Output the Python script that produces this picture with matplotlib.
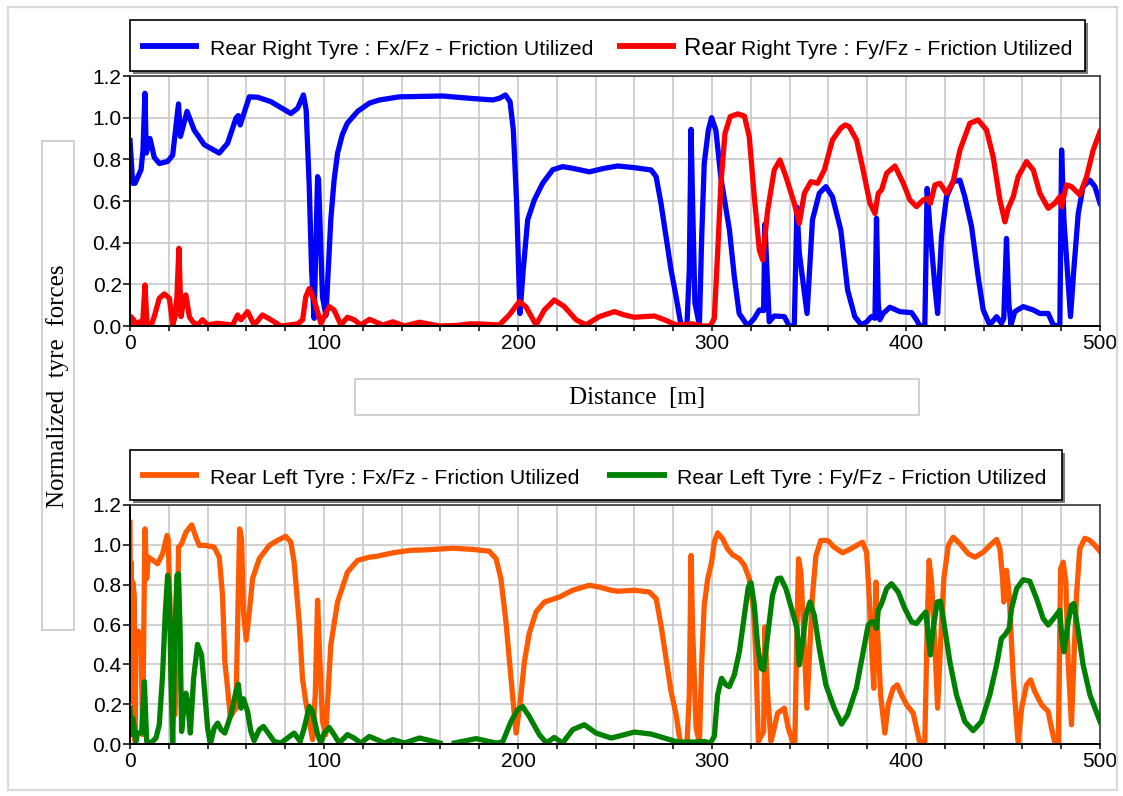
import numpy as np
import matplotlib
matplotlib.use("Agg")
import matplotlib.pyplot as plt
from matplotlib.patches import Rectangle
from matplotlib.lines import Line2D
from matplotlib.ticker import MultipleLocator, FormatStrFormatter

plt.rcParams['font.family'] = ['Liberation Sans', 'DejaVu Sans']

# rear right tyre, Fx/Fz
rr_fx_d = [0, 1.4, 2.6, 5.7, 6.7, 7.7, 8.4, 10.3, 12.5, 15.1, 19.4, 22, 25, 26, 29.4, 33.1, 38.3, 46,
           50.3, 54.6, 55.8, 56.8, 58, 61.5, 65.8, 72.6, 82.9, 86.4, 89.4, 90.8, 92.4, 93.6, 94.9, 96.7,
           97.2, 99.2, 101, 103.5, 105.2, 107, 109.5, 112, 117.3, 123.4, 128.6, 138.9, 161.2, 175, 187,
           190.4, 193.5,
           195.9, 197.6, 199.3, 201, 202.7, 205, 208.4, 212.7, 217.9, 223, 228.2, 236.7, 244.5, 251.4,
           260, 268.6, 271.2, 273.7, 276.3, 278.9, 281.5, 284, 287.1, 288.3, 289.2, 290, 291.2, 293.5,
           294.7, 296, 298.1, 299.8, 302, 304.6, 309, 311.5, 314, 318.4, 321.8, 324.4, 326.6, 327.3,
           328.3, 329.5, 332.1, 337.3, 339.8, 342.4, 343.8, 345, 347.2, 349, 351.8, 355.3, 358.7, 362.1,
           366.4, 369.9, 373.6, 377, 379.7, 382.2, 384, 384.8, 385.7, 386.5, 388.2, 391.7, 396.8, 402.9,
           405.4, 407.1, 409.7, 410.9, 412.3, 414.9, 416.3, 418.3, 420.9, 424.3, 427.8, 430.3, 433.8,
           437.2, 439.8, 443.2, 446.7, 449.2, 450.4, 451.8, 453, 454.1, 456.1, 460.4, 465.6, 469, 473.3,
           475.9, 479.3, 480.2, 481.4, 483.6, 484.8, 486.5, 488.8, 491.3, 494.8, 497.4, 500]
rr_fx_v = [0.89, 0.685, 0.685, 0.75, 0.845, 1.117, 0.83, 0.90, 0.81, 0.78, 0.79, 0.82, 1.066, 0.91, 1.03,
           0.94, 0.87, 0.83, 0.877, 0.997, 1.01, 0.965, 1.0, 1.10, 1.098, 1.077, 1.02, 1.045, 1.109, 1.037,
           0.67, 0.27, 0.037, 0.717, 0.70, 0.14, 0.05, 0.51, 0.70, 0.83, 0.92, 0.973, 1.03, 1.07, 1.085,
           1.10, 1.104,
           1.093, 1.085, 1.093, 1.109, 1.077, 0.94, 0.59, 0.06, 0.27, 0.51, 0.605, 0.685, 0.75, 0.765,
           0.757, 0.74, 0.757, 0.768, 0.76, 0.749, 0.717, 0.589, 0.429, 0.269, 0.14, 0.005, 0.005, 0.27,
           0.944, 0.59, 0.11, 0.005, 0.43, 0.78, 0.94, 1.0, 0.94, 0.71, 0.46, 0.237, 0.06, 0.0, 0.037,
           0.077, 0.074, 0.49, 0.27, 0.02, 0.048, 0.045, 0.0, 0.0, 0.57, 0.35, 0.19, 0.06, 0.51, 0.637,
           0.669, 0.62, 0.46, 0.173, 0.045, 0.005, 0.02, 0.045, 0.037, 0.517, 0.109, 0.03, 0.06, 0.09,
           0.069, 0.064, 0.03, 0.0, 0.0, 0.66, 0.477, 0.189, 0.06, 0.429, 0.621, 0.693, 0.7, 0.621, 0.477,
           0.237, 0.077, 0.005, 0.045, 0.013, 0.037, 0.42, 0.109, 0.005, 0.069, 0.093, 0.077, 0.06, 0.06,
           0.005, 0.0, 0.845, 0.509, 0.205, 0.045, 0.27, 0.541, 0.669, 0.7, 0.669, 0.589]

# rear right tyre, Fy/Fz (nan = gap in the trace)
rr_fy_d = [0, 0.5, 1.9, 3, 4.8, 6.5, 7.7, 8.8, 10.8, 12.5, 15.1, 17.7, 20.3, 22, 23.2, 24.2, 25.2, 26.3,
           28, 28.8, 30.6, 32.3, 34.8, 37.4, 40, 45.2, 52.9, 55.5, 57.2, 60.6, 64, 68.3, 72.6, 77.8, 86.4,
           89, 90.6, 92.4, 94.9, 98.4, 102.7, 105.2, 108.7, 112.1, 115.5, 119, 123.4, 130.3, 135.5, 141.5,
           149.2, 159.5, 166.5, 167.5, 168.7, 175, 180, 190.4, 195.5, 200.7, 204, 209.3, 213.6, 218.7,
           223.9, 229.9, 235, 241.9, 249.7, 254.8, 260, 270.3, 275.5, 281.5, 290, 295.2, 299.1, 301.2,
           302.9, 304.6, 306.7, 309.4, 313.2, 316.7, 319.2, 321.8, 324.4, 326.1, 328.7, 332.1, 335, 338.1,
           342.4, 345, 347.6, 351, 354.4, 357.9, 362.1, 366.4, 368.6, 370.7, 374.5, 377.9, 381.4, 384,
           385.7, 387.4, 390, 394.3, 398.6, 402, 405.4, 408.9, 411.4, 412.6, 414.9, 417.5, 420.9, 424.3,
           427.8, 432.9, 437.2, 441.5, 444.9, 448.4, 451, 452.7, 455.3, 457.8, 462.1, 465.6, 469, 473.3,
           476.7, 479.3, 480.2, 482.7, 485.3, 489.6, 493.1, 496.5, 500]
rr_fy_v = [0.005, 0.045, 0.03, 0.005, 0.02, 0.005, 0.197, 0.005, 0.0, 0.045, 0.133, 0.154, 0.133, 0.005,
           0.045, 0.14, 0.373, 0.045, 0.14, 0.149, 0.045, 0.02, 0.005, 0.03, 0.005, 0.013, 0.005, 0.053,
           0.03, 0.069, 0.005, 0.053, 0.03, 0.0, 0.01, 0.03, 0.14, 0.18, 0.125, 0.013, 0.093, 0.077, 0.005,
           0.042, 0.03, 0.005, 0.032, 0.005, 0.02, 0.0, 0.018, 0.0, 0.002, np.nan, 0.003, 0.01, 0.01,
           0.005, 0.053, 0.117, 0.093, 0.005, 0.077, 0.125, 0.093, 0.03, 0.005, 0.045, 0.069, 0.053, 0.042,
           0.048, 0.03, 0.005, 0.01, 0.0, 0.0, 0.037, 0.35, 0.685, 0.925, 1.005, 1.018, 1.008, 0.909, 0.62,
           0.365, 0.317, 0.557, 0.749, 0.797, 0.717, 0.589, 0.493, 0.637, 0.693, 0.685, 0.749, 0.893, 0.95,
           0.965, 0.957, 0.893, 0.749, 0.589, 0.54, 0.637, 0.653, 0.733, 0.768, 0.685, 0.605, 0.573, 0.605,
           0.613, 0.589, 0.677, 0.685, 0.637, 0.693, 0.845, 0.973, 0.989, 0.941, 0.813, 0.605, 0.5, 0.565,
           0.621, 0.717, 0.789, 0.749, 0.637, 0.565, 0.589, 0.621, 0.573, 0.677, 0.669, 0.629, 0.717,
           0.845, 0.933]

# rear left tyre, Fx/Fz
rl_fx_d = [0, 0.2, 0.5, 0.9, 1.4, 2.2, 2.6, 3.1, 4.3, 5.7, 6.5, 7.7, 8.6, 9.4, 10.8, 14.2, 16.8, 19.1,
           19.7, 21.1, 23.2, 24.5, 25, 26.6, 28.8, 31.8, 34, 35.7, 39.1, 43.4, 46, 47.7, 48.9, 50.3, 51.7,
           52.9, 54.6, 55.8, 56.5, 57.5, 58.5, 59.9, 61.5, 63.2, 66.6, 71.8, 76, 80.3, 82.9, 84.6, 87.2,
           88.9, 90.6, 92.4, 94.1, 95.5, 96.7, 97.9, 99.2, 100.9, 103.5, 107, 112.1, 117.3, 123.4, 126.9,
           135.5, 144, 152.6, 166.4, 176.7, 185.2, 188.7, 191.2, 193.8, 196.4, 199, 201, 203.3, 205.8,
           209.3, 213.6, 221.3, 228.2, 236.7, 241.9, 248, 251.4, 260, 267.7, 271.2, 273.7, 276.3, 278.9,
           281.5, 283.7, 287.1, 288.3, 289.2, 290, 291.8, 293.5, 294.7, 296, 297.8, 299.8, 301.2, 302.9,
           305.5, 308, 310.6, 314.1, 316.7, 319.2, 321.5, 322.7, 323.9, 325.2, 326.6, 327.3, 328.7, 330.4,
           332.1, 333.8, 337.3, 339.3, 341.5, 342.7, 343.8, 344.6, 345.8, 347.2, 348.9, 350.1, 351.8,
           353.6, 356.1, 359.6, 363, 367.3, 371.6, 374.5, 377.6, 379.7, 381, 382.2, 383.4, 384.5, 385.3,
           386.9, 389.1, 390.8, 393.4, 395.5, 397.7, 400.3, 403.7, 405.4, 407.1, 409.7, 410.9, 411.9,
           413.2, 414.9, 416.3, 417.8, 419.5, 421.8, 424.3, 427.8, 432.1, 435.5, 439.8, 444.1, 446.7,
           448.4, 449.8, 450.4, 451.8, 453.2, 455.3, 457.8, 459.6, 462.1, 464.2, 466.4, 469.9, 473.3, 475,
           476.7, 478.5, 479.7, 481, 482.4, 483.6, 485.3, 486.5, 487.9, 489.6, 492.2, 494.8, 497.4, 500]
rl_fx_v = [1.113, 0.213, 0.913, 0.53, 0.813, 0.747, 0.013, 0.563, 0.567, 0.53, 0.047, 1.08, 0.83, 0.938,
           0.93, 0.905, 0.955, 1.047, 1.03, 0.497, 0.147, 0.58, 0.988, 1.005, 1.063, 1.1, 1.038, 0.997,
           0.997, 0.988, 0.938, 0.747, 0.413, 0.28, 0.138, 0.155, 0.18, 0.747, 1.08, 1.03, 0.663, 0.522,
           0.663, 0.83, 0.93, 0.997, 1.022, 1.043, 1.013, 0.913, 0.613, 0.33, 0.213, 0.113, 0.022, 0.247,
           0.722, 0.413, 0.113, 0.047, 0.497, 0.713, 0.863, 0.922, 0.938, 0.942, 0.96, 0.972, 0.975, 0.983,
           0.977, 0.968, 0.93, 0.83, 0.613, 0.33, 0.055, 0.197, 0.413, 0.555, 0.663, 0.713, 0.738, 0.772,
           0.797, 0.788, 0.772, 0.767, 0.772, 0.763, 0.73, 0.597, 0.43, 0.263, 0.147, 0.005, 0.005, 0.247,
           0.947, 0.58, 0.08, 0.005, 0.413, 0.697, 0.83, 0.913, 1.013, 1.06, 1.03, 0.98, 0.95, 0.93, 0.897,
           0.83, 0.663, 0.413, 0.013, 0.038, 0.063, 0.588, 0.247, 0.013, 0.08, 0.155, 0.18, 0.08, 0.013,
           0.005, 0.58, 0.93, 0.863, 0.58, 0.18, 0.413, 0.747, 0.947, 1.022, 1.022, 0.988, 0.96, 0.98,
           0.997, 1.013, 0.963, 0.747, 0.497, 0.28, 0.813, 0.58, 0.247, 0.055, 0.197, 0.28, 0.297, 0.247,
           0.197, 0.155, 0.08, 0.005, 0.013, 0.58, 0.922, 0.813, 0.497, 0.18, 0.497, 0.83, 0.997, 1.038,
           1.005, 0.955, 0.938, 0.963, 1.005, 1.027, 0.98, 0.83, 0.713, 0.872, 0.747, 0.33, 0.005, 0.18,
           0.297, 0.322, 0.263, 0.197, 0.163, 0.08, 0.005, 0.005, 0.88, 0.913, 0.813, 0.413, 0.097, 0.413,
           0.747, 0.98, 1.033, 1.022, 0.997, 0.967]

# rear left tyre, Fy/Fz (nan = gap in the trace)
rl_fy_d = [0, 0.5, 1.4, 2.2, 3.1, 3.9, 6, 7.4, 8.6, 10.8, 13.4, 15.1, 16.8, 18.2, 19.4, 20.3, 21.1, 22,
           23.2, 24.2, 25, 25.8, 26.6, 28, 28.8, 29.7, 31.1, 32.8, 34.8, 36.9, 38.6, 40, 41.4, 43.4, 45.2,
           46.9, 48.9, 52, 54.6, 55.8, 57.2, 58.5, 60.6, 62.3, 64, 66.6, 68.8, 71.8, 74.3, 77.8, 81.2,
           84.6, 87.7, 89.8, 92.4, 94.1, 96.7, 98.4, 100.1, 102.7, 105.2, 107.8, 112.1, 115.5, 119, 123.4,
           131.2, 135.5, 141.5, 149.2, 159.8, 163.5, 167.2, 178.4, 188.7, 192.1, 196.4, 199.8, 202.4,
           205.8, 211, 214.7, 218.7, 223, 228.2, 234.2, 240.2, 248, 251.4, 260, 268.6, 275.5, 282.3, 290.9,
           296, 299.1, 301.2, 302.9, 304.9, 307.2, 308.9, 311.5, 314.1, 316.7, 318.7, 320.1, 321.8, 323.5,
           325.2, 326.6, 328.7, 331.2, 333.8, 335.5, 338.1, 341.5, 343.8, 345, 346.7, 348.4, 350.5, 352.7,
           355.3, 358.7, 363, 366.8, 369.9, 374.4, 377.9, 380.5, 382.2, 383.4, 384.8, 385.7, 387.4, 390,
           392.5, 396, 399.4, 402.9, 405.4, 408, 410.2, 411.4, 412.6, 414, 416.1, 417.8, 420, 422.6, 426,
           430.3, 434.6, 438.9, 443.2, 446.7, 449.2, 450.9, 453.2, 454.4, 457, 460.4, 463.8, 467.3, 470.7,
           473.3, 476.7, 479.3, 480.2, 481.4, 483.6, 485.3, 486.5, 488.8, 491.3, 494.8, 500]
rl_fy_v = [0.18, 0.047, 0.13, 0.08, 0.013, 0.055, 0.055, 0.313, 0.013, 0.005, 0.03, 0.097, 0.347, 0.663,
           0.847, 0.747, 0.33, 0.005, 0.58, 0.847, 0.855, 0.58, 0.063, 0.213, 0.255, 0.213, 0.055, 0.33,
           0.5, 0.447, 0.247, 0.08, 0.0, 0.08, 0.105, 0.072, 0.055, 0.147, 0.263, 0.3, 0.18, 0.227, 0.163,
           0.063, 0.017, 0.072, 0.088, 0.047, 0.013, 0.005, 0.03, 0.055, 0.013, 0.08, 0.188, 0.163, 0.047,
           0.005, 0.055, 0.083, 0.047, 0.005, 0.047, 0.03, 0.005, 0.038, 0.005, 0.022, 0.005, 0.03, 0.005,
           np.nan, 0.005, 0.027, 0.005, 0.01, 0.113, 0.172, 0.188, 0.138, 0.047, 0.005, 0.033, 0.005,
           0.072, 0.097, 0.055, 0.03, 0.038, 0.06, 0.05, 0.03, 0.01, 0.01, 0.013, 0.005, 0.038, 0.247,
           0.33, 0.297, 0.288, 0.347, 0.463, 0.647, 0.788, 0.81, 0.697, 0.497, 0.38, 0.372, 0.547, 0.747,
           0.83, 0.833, 0.78, 0.663, 0.58, 0.397, 0.513, 0.647, 0.713, 0.647, 0.48, 0.297, 0.18, 0.1, 0.147,
           0.28, 0.463, 0.597, 0.613, 0.613, 0.58, 0.672, 0.705, 0.78, 0.805, 0.763, 0.68, 0.613, 0.605,
           0.638, 0.663, 0.547, 0.447, 0.58, 0.713, 0.717, 0.58, 0.413, 0.247, 0.113, 0.067, 0.113, 0.247,
           0.397, 0.53, 0.547, 0.58, 0.68, 0.78, 0.825, 0.817, 0.73, 0.63, 0.597, 0.638, 0.672, 0.547,
           0.463, 0.613, 0.697, 0.705, 0.563, 0.397, 0.247, 0.113]

labels_top = ["Rear Right Tyre : Fx/Fz - Friction Utilized", "Right Tyre : Fy/Fz - Friction Utilized"]
labels_bot = ["Rear Left Tyre : Fx/Fz - Friction Utilized", "Rear Left Tyre : Fy/Fz - Friction Utilized"]
c_blue, c_red, c_orange, c_green = "#0000ff", "#ff0000", "#ff5a00", "#008000"

W, H = 1123, 796
fig = plt.figure(figsize=(W / 100, H / 100), dpi=100)


def fx(px):
    return px / W


def fy(py):
    return 1 - py / H


def box(x0, y0, x1, y1, ec, lw, fc="white", shadow=False):
    if shadow:
        fig.patches.append(Rectangle((fx(x0 + 2.5), fy(y1 + 2.5)), fx(x1 - x0), (y1 - y0) / H,
                                     transform=fig.transFigure, fc="#7a7a7a", ec="none"))
    fig.patches.append(Rectangle((fx(x0), fy(y1)), fx(x1 - x0), (y1 - y0) / H,
                                 transform=fig.transFigure, fc=fc, ec=ec, lw=lw))


def handle(x0, x1, y, color):
    fig.lines.append(Line2D([fx(x0), fx(x1)], [fy(y), fy(y)], transform=fig.transFigure,
                            color=color, lw=4.2, solid_capstyle="butt"))


# outer frame
box(8, 7, 1117, 790, "#d9d9d9", 1.6, fc="none")

ax1 = fig.add_axes([fx(130), fy(326), fx(970), 250 / H])
ax2 = fig.add_axes([fx(130), fy(744), fx(970), 239 / H])

ax1.plot(rr_fx_d, rr_fx_v, color=c_blue, lw=3.8, solid_joinstyle="round")
ax1.plot(rr_fy_d, rr_fy_v, color=c_red, lw=3.8, solid_joinstyle="round")
ax2.plot(rl_fx_d, rl_fx_v, color=c_orange, lw=3.8, solid_joinstyle="round")
ax2.plot(rl_fy_d, rl_fy_v, color=c_green, lw=3.8, solid_joinstyle="round")

for ax in (ax1, ax2):
    ax.set_xlim(0, 500)
    ax.set_ylim(0, 1.2)
    ax.xaxis.set_major_locator(MultipleLocator(100))
    ax.xaxis.set_minor_locator(MultipleLocator(20))
    ax.yaxis.set_major_locator(MultipleLocator(0.2))
    ax.yaxis.set_major_formatter(FormatStrFormatter("%.1f"))
    ax.grid(True, which="both", axis="x", color="#c8c8c8", lw=1.2)
    ax.grid(True, which="major", axis="y", color="#c8c8c8", lw=1.2)
    ax.set_axisbelow(True)
    ax.tick_params(axis="both", which="both", direction="out", labelsize=15, width=1.1, colors="black")
    ax.tick_params(axis="x", which="both", length=3.5, pad=2)
    ax.tick_params(axis="y", length=5, pad=1)
    for side in ("left", "bottom"):
        ax.spines[side].set_color("black")
        ax.spines[side].set_linewidth(1.4)
    for side in ("top", "right"):
        ax.spines[side].set_color("#3a3a3a")
        ax.spines[side].set_linewidth(1.2)

# legends
box(130, 20, 1085, 71, "black", 1.2, shadow=True)
handle(140, 199, 46, c_blue)
fig.text(fx(210), fy(55), labels_top[0], fontsize=15.3, va="baseline", ha="left")
handle(617, 676, 46, c_red)
fig.text(fx(684), fy(55), "Rear", fontsize=17.3, va="baseline", ha="left")
fig.text(fx(741), fy(55), labels_top[1], fontsize=15.3, va="baseline", ha="left")

box(130, 450, 1062, 500, "black", 1.2, shadow=True)
handle(140, 199, 475, c_orange)
fig.text(fx(210), fy(483.5), labels_bot[0], fontsize=15.3, va="baseline", ha="left")
handle(607, 667, 475, c_green)
fig.text(fx(677), fy(483.5), labels_bot[1], fontsize=15.3, va="baseline", ha="left")

# axis titles in their own boxes
box(42, 141, 74, 630, "#c8c8c8", 1.2)
fig.text(fx(58), fy(386), "Normalized  tyre  forces", rotation=90, fontsize=18,
         family="Liberation Serif", ha="center", va="center")
box(355, 379, 919, 415, "#c8c8c8", 1.2)
fig.text(fx(637), fy(398), "Distance  [m]", fontsize=18, family="Liberation Serif",
         ha="center", va="center")

fig.savefig("out.png", dpi=100)
